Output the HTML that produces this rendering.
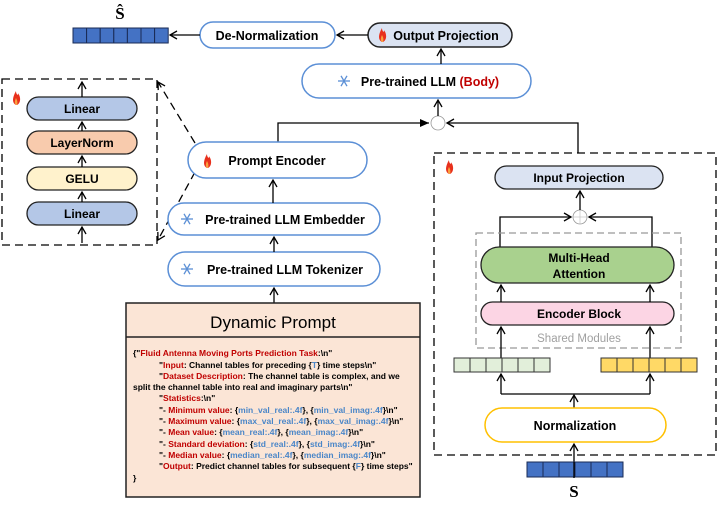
<!DOCTYPE html>
<html><head><style>
body{margin:0;background:#fff;}
svg text{font-family:"Liberation Sans",sans-serif;font-weight:bold;}
svg text.serif{font-family:"Liberation Serif",serif;}
</style></head><body>
<svg width="718" height="506" viewBox="0 0 718 506" xmlns="http://www.w3.org/2000/svg">
<defs>
<marker id="a" markerWidth="10" markerHeight="10" refX="8" refY="5" orient="auto" markerUnits="userSpaceOnUse"><path d="M1,1 L8,5 L1,9" fill="none" stroke="#000" stroke-width="1.3"/></marker>
<marker id="f" markerWidth="10" markerHeight="10" refX="9" refY="5" orient="auto" markerUnits="userSpaceOnUse"><path d="M0,1 L9,5 L0,9z" fill="#000"/></marker>
<g id="fire"><path d="M0,8 C-4,6 -4,1 0,-6 C0,-2 3,-1 2,-4 C5,0 5,6 1,8z" fill="#e8301c"/><path d="M0,8 C-2,6 -1,3 0,1 C1,3 2,5 1,8z" fill="#f9a03f"/></g>
<g id="snow" stroke="#5b8fd6" stroke-width="1.3"><line x1="-6" y1="0" x2="6" y2="0"/><line x1="-3" y1="-5.2" x2="3" y2="5.2"/><line x1="3" y1="-5.2" x2="-3" y2="5.2"/></g>
</defs>

<!-- top row -->
<text class="serif" x="120" y="19" font-size="17" text-anchor="middle">Ŝ</text>
<g fill="#4472c4" stroke="#1a2b55" stroke-width="1">
<rect x="73" y="28" width="13.6" height="15"/><rect x="86.6" y="28" width="13.6" height="15"/><rect x="100.2" y="28" width="13.6" height="15"/><rect x="113.8" y="28" width="13.6" height="15"/><rect x="127.4" y="28" width="13.6" height="15"/><rect x="141" y="28" width="13.6" height="15"/><rect x="154.6" y="28" width="13.6" height="15"/></g>
<rect x="200" y="22" width="135" height="26" rx="13" fill="#fff" stroke="#5b8fd6" stroke-width="1.5"/>
<text x="267" y="40" font-size="12.5" text-anchor="middle">De-Normalization</text>
<rect x="368" y="23" width="144" height="24" rx="12" fill="#dbe3f2" stroke="#222" stroke-width="1.5"/>
<use href="#fire" x="382" y="34"/>
<text x="446" y="40" font-size="12.5" text-anchor="middle">Output Projection</text>
<line x1="368" y1="35" x2="337" y2="35" stroke="#000" stroke-width="1.3" marker-end="url(#a)"/>
<line x1="200" y1="35" x2="170" y2="35" stroke="#000" stroke-width="1.3" marker-end="url(#a)"/>
<rect x="302" y="64" width="229" height="34" rx="17" fill="#fff" stroke="#5b8fd6" stroke-width="1.5"/>
<use href="#snow" x="344" y="81"/>
<text x="430" y="86" font-size="12.5" text-anchor="middle">Pre-trained LLM <tspan fill="#c00000">(Body)</tspan></text>
<line x1="441" y1="64" x2="441" y2="49" stroke="#000" stroke-width="1.3" marker-end="url(#a)"/>

<!-- circle top -->
<circle cx="438" cy="123" r="7" fill="#fff" stroke="#999" stroke-width="0.8"/>
<line x1="438" y1="116" x2="438" y2="100" stroke="#000" stroke-width="1.3" marker-end="url(#a)"/>
<polyline points="278,142 278,123 429,123" fill="none" stroke="#000" stroke-width="1.3" marker-end="url(#f)"/>
<polyline points="578,153 578,123 447,123" fill="none" stroke="#000" stroke-width="1.3" marker-end="url(#a)"/>

<!-- left dashed box -->
<rect x="2" y="79" width="155" height="166" fill="none" stroke="#000" stroke-width="1.3" stroke-dasharray="8,5"/>
<use href="#fire" x="16" y="97"/>
<rect x="27" y="97" width="110" height="23" rx="11.5" fill="#b4c7e7" stroke="#222" stroke-width="1.3"/>
<text x="82" y="113" font-size="12" text-anchor="middle">Linear</text>
<rect x="27" y="131" width="110" height="23" rx="11.5" fill="#f8cbad" stroke="#222" stroke-width="1.3"/>
<text x="82" y="147" font-size="12" text-anchor="middle">LayerNorm</text>
<rect x="27" y="167" width="110" height="23" rx="11.5" fill="#fff2cc" stroke="#222" stroke-width="1.3"/>
<text x="82" y="183" font-size="12" text-anchor="middle">GELU</text>
<rect x="27" y="202" width="110" height="23" rx="11.5" fill="#b4c7e7" stroke="#222" stroke-width="1.3"/>
<text x="82" y="218" font-size="12" text-anchor="middle">Linear</text>
<g stroke="#000" stroke-width="1.3">
<line x1="82" y1="243" x2="82" y2="227" marker-end="url(#a)"/>
<line x1="82" y1="202" x2="82" y2="192" marker-end="url(#a)"/>
<line x1="82" y1="167" x2="82" y2="156" marker-end="url(#a)"/>
<line x1="82" y1="131" x2="82" y2="122" marker-end="url(#a)"/>
<line x1="82" y1="97" x2="82" y2="82" marker-end="url(#a)"/>
<line x1="195" y1="143" x2="158" y2="82" stroke-dasharray="8,5" marker-end="url(#a)"/>
<line x1="195" y1="172" x2="158" y2="240" stroke-dasharray="8,5" marker-end="url(#a)"/>
</g>

<!-- middle column -->
<rect x="188" y="142" width="179" height="36" rx="18" fill="#fff" stroke="#5b8fd6" stroke-width="1.5"/>
<use href="#fire" x="207" y="160"/>
<text x="277" y="165" font-size="12.5" text-anchor="middle">Prompt Encoder</text>
<rect x="168" y="203" width="212" height="32" rx="16" fill="#fff" stroke="#5b8fd6" stroke-width="1.5"/>
<use href="#snow" x="187" y="219"/>
<text x="285" y="224" font-size="12.5" text-anchor="middle">Pre-trained LLM Embedder</text>
<rect x="168" y="252" width="212" height="34" rx="17" fill="#fff" stroke="#5b8fd6" stroke-width="1.5"/>
<use href="#snow" x="187" y="269"/>
<text x="285" y="274" font-size="12.5" text-anchor="middle">Pre-trained LLM Tokenizer</text>
<g stroke="#000" stroke-width="1.3">
<line x1="273" y1="203" x2="273" y2="180" marker-end="url(#a)"/>
<line x1="274" y1="252" x2="274" y2="237" marker-end="url(#a)"/>
<line x1="274" y1="303" x2="274" y2="288" marker-end="url(#a)"/>
</g>

<!-- dynamic prompt -->
<rect x="126" y="303" width="294" height="194" fill="#fbe5d6" stroke="#222" stroke-width="1.5"/>
<line x1="126" y1="337" x2="420" y2="337" stroke="#222" stroke-width="1.5"/>
<text x="273" y="328" font-size="17" style="font-weight:normal" text-anchor="middle">Dynamic Prompt</text>
<g font-size="8.5">
<text x="133" y="356">{"<tspan fill="#c00000">Fluid Antenna Moving Ports Prediction Task</tspan>:\n"</text>
<text x="159" y="368">"<tspan fill="#c00000">Input</tspan>: Channel tables for preceding {<tspan fill="#4a86c8">T</tspan>} time steps\n"</text>
<text x="159" y="379">"<tspan fill="#c00000">Dataset Description</tspan>: The channel table is complex, and we</text>
<text x="133" y="390">split the channel table into real and imaginary parts\n"</text>
<text x="159" y="401">"<tspan fill="#c00000">Statistics</tspan>:\n"</text>
<text x="159" y="413">"- <tspan fill="#c00000">Minimum value</tspan>: {<tspan fill="#4a86c8">min_val_real:.4f</tspan>}, {<tspan fill="#4a86c8">min_val_imag:.4f</tspan>}\n"</text>
<text x="159" y="424">"- <tspan fill="#c00000">Maximum value</tspan>: {<tspan fill="#4a86c8">max_val_real:.4f</tspan>}, {<tspan fill="#4a86c8">max_val_imag:.4f</tspan>}\n"</text>
<text x="159" y="435">"- <tspan fill="#c00000">Mean value</tspan>: {<tspan fill="#4a86c8">mean_real:.4f</tspan>}, {<tspan fill="#4a86c8">mean_imag:.4f</tspan>}\n"</text>
<text x="159" y="447">"- <tspan fill="#c00000">Standard deviation</tspan>: {<tspan fill="#4a86c8">std_real:.4f</tspan>}, {<tspan fill="#4a86c8">std_imag:.4f</tspan>}\n"</text>
<text x="159" y="458">"- <tspan fill="#c00000">Median value</tspan>: {<tspan fill="#4a86c8">median_real:.4f</tspan>}, {<tspan fill="#4a86c8">median_imag:.4f</tspan>}\n"</text>
<text x="159" y="469">"<tspan fill="#c00000">Output</tspan>: Predict channel tables for subsequent {<tspan fill="#4a86c8">F</tspan>} time steps"</text>
<text x="133" y="481">}</text>
</g>

<!-- right dashed box -->
<rect x="434" y="153" width="282" height="302" fill="none" stroke="#000" stroke-width="1.3" stroke-dasharray="8,5"/>
<use href="#fire" x="449" y="166"/>
<rect x="495" y="166" width="168" height="23" rx="11.5" fill="#dbe3f2" stroke="#222" stroke-width="1.3"/>
<text x="579" y="182" font-size="12" text-anchor="middle">Input Projection</text>
<circle cx="580" cy="217" r="7" fill="#fff" stroke="#999" stroke-width="0.8"/>
<line x1="573" y1="217" x2="587" y2="217" stroke="#bbb" stroke-width="0.6"/>
<line x1="580" y1="210" x2="580" y2="224" stroke="#bbb" stroke-width="0.6"/>
<line x1="580" y1="210" x2="580" y2="191" stroke="#000" stroke-width="1.3" marker-end="url(#a)"/>
<polyline points="500,247 500,217 571,217" fill="none" stroke="#000" stroke-width="1.3" marker-end="url(#a)"/>
<polyline points="652,247 652,217 589,217" fill="none" stroke="#000" stroke-width="1.3" marker-end="url(#a)"/>
<rect x="476" y="233" width="205" height="115" fill="none" stroke="#999" stroke-width="1.3" stroke-dasharray="7,4"/>
<rect x="481" y="247" width="193" height="36" rx="18" fill="#a9d18e" stroke="#222" stroke-width="1.3"/>
<text x="579" y="262" font-size="12" text-anchor="middle">Multi-Head</text>
<text x="579" y="278" font-size="12" text-anchor="middle">Attention</text>
<rect x="481" y="302" width="193" height="23" rx="11.5" fill="#fcd5e4" stroke="#222" stroke-width="1.3"/>
<text x="579" y="318" font-size="12" text-anchor="middle">Encoder Block</text>
<text x="579" y="342" font-size="11.5" fill="#a0a0a0" style="font-weight:normal" text-anchor="middle">Shared Modules</text>
<g stroke="#000" stroke-width="1.3">
<line x1="501" y1="302" x2="501" y2="285" marker-end="url(#a)"/>
<line x1="650" y1="302" x2="650" y2="285" marker-end="url(#a)"/>
<line x1="501" y1="358" x2="501" y2="327" marker-end="url(#a)"/>
<line x1="650" y1="358" x2="650" y2="327" marker-end="url(#a)"/>
<polyline points="501,394 501,374" fill="none" marker-end="url(#a)"/>
<polyline points="650,394 650,374" fill="none" marker-end="url(#a)"/>
<line x1="501" y1="394" x2="650" y2="394"/>
<line x1="574" y1="408" x2="574" y2="395" marker-end="url(#a)"/>
<line x1="574" y1="470" x2="574" y2="444" marker-end="url(#a)"/>
</g>
<g fill="#e2efda" stroke="#333" stroke-width="1">
<rect x="454" y="358" width="16" height="14"/><rect x="470" y="358" width="16" height="14"/><rect x="486" y="358" width="16" height="14"/><rect x="502" y="358" width="16" height="14"/><rect x="518" y="358" width="16" height="14"/><rect x="534" y="358" width="16" height="14"/></g>
<g fill="#ffd966" stroke="#333" stroke-width="1">
<rect x="601" y="358" width="16" height="14"/><rect x="617" y="358" width="16" height="14"/><rect x="633" y="358" width="16" height="14"/><rect x="649" y="358" width="16" height="14"/><rect x="665" y="358" width="16" height="14"/><rect x="681" y="358" width="16" height="14"/></g>
<rect x="485" y="408" width="181" height="34" rx="17" fill="#fff" stroke="#ffc000" stroke-width="1.5"/>
<text x="575" y="430" font-size="12.5" text-anchor="middle">Normalization</text>
<g fill="#4472c4" stroke="#1a2b55" stroke-width="1">
<rect x="527" y="462" width="16" height="15"/><rect x="543" y="462" width="16" height="15"/><rect x="559" y="462" width="16" height="15"/><rect x="575" y="462" width="16" height="15"/><rect x="591" y="462" width="16" height="15"/><rect x="607" y="462" width="16" height="15"/></g>
<line x1="574" y1="478" x2="574" y2="462" stroke="#000" stroke-width="1.3"/>
<text class="serif" x="574" y="497" font-size="17" text-anchor="middle">S</text>
</svg>
</body></html>
